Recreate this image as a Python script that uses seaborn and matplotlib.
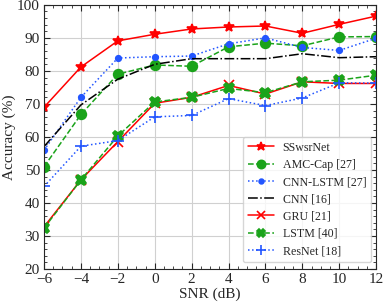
import numpy as np
import pandas as pd
import matplotlib
matplotlib.use('Agg')
import matplotlib.pyplot as plt
import seaborn as sns

snr = [-6, -4, -2, 0, 2, 4, 6, 8, 10, 12]

sswsrnet = [69.0, 81.2, 89.1, 91.1, 92.7, 93.3, 93.6, 91.4, 94.1, 96.6]
amc_cap = [51.0, 66.8, 79.0, 81.8, 81.4, 87.3, 88.4, 87.6, 90.3, 90.4]
cnn_lstm = [56.0, 72.0, 83.9, 84.3, 84.5, 88.2, 90.0, 87.1, 86.2, 89.9]
cnn = [57.1, 69.7, 77.5, 82.0, 83.7, 83.7, 83.7, 85.2, 84.0, 84.3]
gru = [32.8, 47.0, 58.6, 70.2, 72.0, 75.6, 73.0, 76.7, 76.2, 76.2]
lstm = [32.4, 47.0, 60.3, 70.6, 72.0, 74.7, 73.4, 76.7, 77.2, 78.7]
resnet = [45.0, 57.2, 58.9, 66.1, 66.5, 71.6, 69.5, 71.8, 76.4, 76.3]

sns.set_style('ticks')
plt.rcParams['font.family'] = ['Liberation Serif', 'DejaVu Serif']

fig, ax = plt.subplots(figsize=(3.83, 3.04), dpi=100)
fig.subplots_adjust(left=0.115, right=0.982, top=0.984, bottom=0.115)

series = [
    ('SSwsrNet', sswsrnet, 'red', '*', '-', 7.5),
    ('AMC-Cap [27]', amc_cap, '#1aa31a', 'o', '--', 7),
    ('CNN-LSTM [27]', cnn_lstm, '#2255ff', '.', ':', 8),
    ('CNN [16]', cnn, 'black', None, '-.', 6),
    ('GRU [21]', gru, 'red', 'x', '-', 6.5),
    ('LSTM [40]', lstm, '#1aa31a', 'X', '--', 7.5),
    ('ResNet [18]', resnet, '#2255ff', '+', ':', 8),
]

for name, vals, col, mk, ls, ms in series:
    df = pd.DataFrame({'SNR': snr, 'Acc': vals})
    sns.lineplot(data=df, x='SNR', y='Acc', ax=ax, color=col, marker=mk,
                 linestyle=ls, markersize=ms, linewidth=1.1, label=name,
                 markeredgecolor=col, markeredgewidth=1.2)

ax.set_xlim(-6, 12)
ax.set_ylim(20, 100)
ax.set_xticks(np.arange(-6, 13, 2))
ax.set_yticks(np.arange(20, 101, 10))
ax.set_xticklabels([str(v).replace('-', '\u2212') for v in range(-6, 13, 2)])
ax.minorticks_on()
ax.tick_params(which='both', direction='in', top=True, right=True, labelsize=11)
ax.tick_params(which='major', length=4, pad=3)
ax.tick_params(which='minor', length=2)
ax.grid(True, which='major', color='#d0d0d0', linewidth=0.8)
ax.set_xlabel('SNR (dB)', fontsize=11, labelpad=1)
ax.set_ylabel('Accuracy (%)', fontsize=11, labelpad=1)
for s in ax.spines.values():
    s.set_linewidth(0.8)

leg = ax.legend(loc='lower right', fontsize=8.6, frameon=True, fancybox=True,
                handlelength=2.2, handletextpad=0.73, borderpad=0.4,
                labelspacing=0.44, borderaxespad=0,
                bbox_to_anchor=(0.985, 0.027), markerscale=0.85)
leg.get_frame().set_edgecolor('#cccccc')

fig.savefig('out.png', dpi=100)
